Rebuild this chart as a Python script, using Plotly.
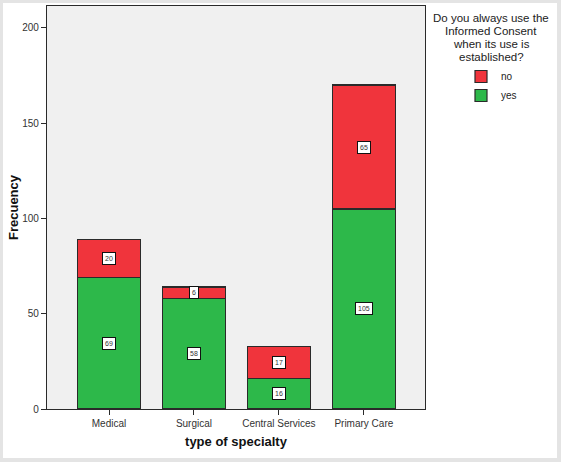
import plotly.graph_objects as go

specialties = ['Medical', 'Surgical', 'Central Services', 'Primary Care']
yes_counts = [69, 58, 16, 105]
no_counts = [20, 6, 17, 65]
legend_title = ['Do you always use the', 'Informed Consent', 'when its use is', 'established?']

red = '#f0343c'
green = '#2db84a'
edge = '#2a2a2a'
font = 'Liberation Sans, Arial, sans-serif'

W, H = 561, 462
L, R, T, B = 47, 136, 6, 53
pw, ph = W - L - R, H - T - B

fig = go.Figure()
fig.add_trace(go.Bar(x=specialties, y=yes_counts, name='yes',
                     marker=dict(color=green, line=dict(color=edge, width=1.2)),
                     width=0.74))
fig.add_trace(go.Bar(x=specialties, y=no_counts, name='no',
                     marker=dict(color=red, line=dict(color=edge, width=1.2)),
                     width=0.74))

# value boxes in the middle of each segment
anns = []
for i, cat in enumerate(specialties):
    for val, base in [(yes_counts[i], 0), (no_counts[i], yes_counts[i])]:
        anns.append(dict(x=cat, y=base + val / 2, text=str(val), showarrow=False,
                         font=dict(size=7, color='#333333', family=font),
                         bgcolor='white', bordercolor='#111111', borderwidth=1,
                         borderpad=2))

# legend title, one line at a time (tighter line spacing than plotly's <br>)
for k, line in enumerate(legend_title):
    anns.append(dict(xref='paper', yref='paper', x=(491 - L) / pw,
                     y=(H - B - 18 - 13 * k) / ph,
                     xanchor='center', yanchor='middle', showarrow=False,
                     text=line, font=dict(size=11.5, color='#222222', family=font)))

shapes = [
    # white panel inside grey frame
    dict(type='rect', xref='paper', yref='paper', layer='below',
         x0=(3 - L) / pw, x1=(557 - L) / pw, y0=(H - B - 458) / ph, y1=(H - B - 3) / ph,
         fillcolor='white', line=dict(width=0)),
    # plot background
    dict(type='rect', xref='paper', yref='paper', layer='below',
         x0=0, x1=1, y0=0, y1=1, fillcolor='#f0f0f0', line=dict(width=0)),
]

fig.update_layout(
    width=W, height=H,
    margin=dict(l=L, r=R, t=T, b=B, pad=0),
    barmode='stack',
    paper_bgcolor='#e4e4e4',
    plot_bgcolor='#f0f0f0',
    font=dict(family=font, size=10, color='#333333'),
    annotations=anns,
    shapes=shapes,
    showlegend=True,
    legend=dict(traceorder='reversed', x=(461 - L) / pw, y=(H - B - 62) / ph,
                xanchor='left', yanchor='top', bgcolor='rgba(0,0,0,0)',
                font=dict(size=10, color='#222222', family=font),
                itemwidth=30, tracegroupgap=0),
    xaxis=dict(range=[-0.73, 3.72], showline=True, linecolor=edge, linewidth=1.2,
               mirror=True, ticks='outside', ticklen=5, tickcolor=edge,
               showgrid=False, tickfont=dict(size=10, color='#333333'),
               title=dict(text='<b>type of specialty</b>', standoff=8,
                          font=dict(size=13, color='#111111', family=font))),
    yaxis=dict(range=[0, 211.5], showline=True, linecolor=edge, linewidth=1.2,
               mirror=True, ticks='outside', ticklen=5, tickcolor=edge,
               showgrid=False, zeroline=False, tickvals=[0, 50, 100, 150, 200],
               tickfont=dict(size=10, color='#333333'),
               title=dict(text='<b>Frecuency</b>', standoff=0,
                          font=dict(size=13, color='#111111', family=font))),
)

fig.write_html('out.html', config={'displayModeBar': False},
               post_script="document.body.style.margin='0';")
